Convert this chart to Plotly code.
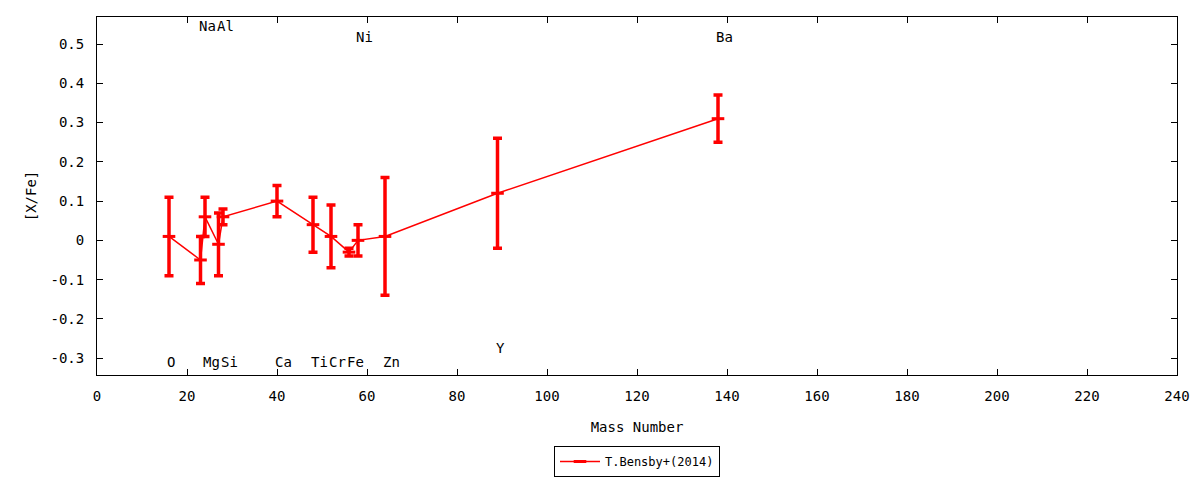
import plotly.graph_objects as go

# element abundances vs mass number
elements = ["O", "Na", "Mg", "Al", "Si", "Ca", "Ti", "Cr", "Fe", "Ni", "Zn", "Y", "Ba"]
mass = [16, 23, 24, 27, 28, 40, 48, 52, 56, 58, 64, 89, 138]
x_fe = [0.01, -0.05, 0.06, -0.01, 0.06, 0.10, 0.04, 0.01, -0.03, 0.00, 0.01, 0.12, 0.31]
err = [0.10, 0.06, 0.05, 0.08, 0.02, 0.04, 0.07, 0.08, 0.01, 0.04, 0.15, 0.14, 0.06]

# where the element names sit (y in [X/Fe] units)
label_y = [-0.311, 0.545, -0.311, 0.545, -0.311, -0.311, -0.311, -0.311, -0.311, 0.519, -0.311, -0.275, 0.519]

x_ticks = [0, 20, 40, 60, 80, 100, 120, 140, 160, 180, 200, 220, 240]
y_ticks = [-0.3, -0.2, -0.1, 0, 0.1, 0.2, 0.3, 0.4, 0.5]
y_ticktext = ["-0.3", "-0.2", "-0.1", "0", "0.1", "0.2", "0.3", "0.4", "0.5"]

font = "DejaVu Sans Mono"
fsize = 14
red = "#ff0000"

fig = go.Figure()
fig.add_trace(go.Scatter(
    x=mass, y=x_fe,
    mode="lines+markers",
    name="T.Bensby+(2014)",
    line=dict(color=red, width=1.5),
    marker=dict(symbol="line-ew", size=9, line=dict(color=red, width=3)),
    error_y=dict(type="data", array=err, color=red, thickness=3.5, width=4.5),
))

for el, m, ly in zip(elements, mass, label_y):
    fig.add_annotation(x=m, y=ly, text=el, showarrow=False, xanchor="left", xshift=-4,
                       font=dict(family=font, size=fsize, color="black"))

axis_style = dict(
    showline=True, linecolor="black", linewidth=1, mirror="ticks",
    ticks="inside", ticklen=6, tickcolor="black", showgrid=False, zeroline=False,
    automargin=False,
    tickfont=dict(family=font, size=fsize, color="black"),
)

fig.update_xaxes(range=[0, 240], tickvals=x_ticks, ticklabelstandoff=8,
                 title=dict(text="Mass Number", font=dict(family=font, size=fsize, color="black"), standoff=19),
                 **axis_style)
fig.update_yaxes(range=[-0.343, 0.569], tickvals=y_ticks, ticktext=y_ticktext, ticklabelstandoff=9,
                 title=dict(text="[X/Fe]", font=dict(family=font, size=fsize, color="black"), standoff=10),
                 **axis_style)

# page body has an 8px margin at top/left
fig.update_layout(
    width=1192, height=480,
    margin=dict(l=89, r=23, t=9, b=113),
    plot_bgcolor="white", paper_bgcolor="white",
    font=dict(family=font, size=fsize, color="black"),
    showlegend=True,
    legend=dict(orientation="h", x=0.5, xanchor="center", y=0.0875, yref="container", yanchor="top",
                bordercolor="black", borderwidth=1, font=dict(family=font, size=12),
                itemwidth=40),
)

fig.write_html("out.html")
